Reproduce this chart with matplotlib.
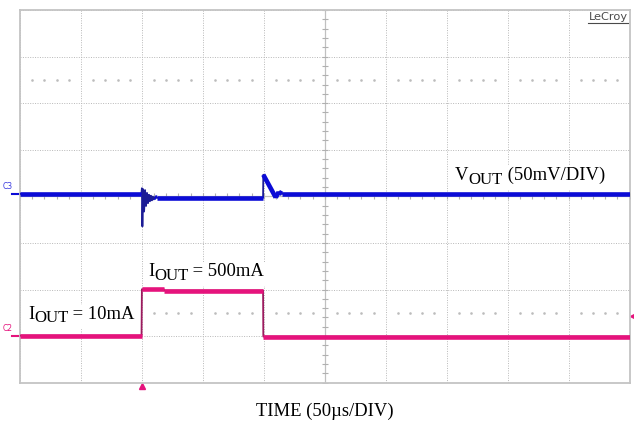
import matplotlib.pyplot as plt
import numpy as np

W, H = 634, 421

# time in microseconds (50us/div, 10 div on screen)
t_vout = [0, 99.6, 100.0, 100.4, 101.0, 101.8, 102.6, 103.4, 104.2, 105.0, 105.8,
          106.6, 107.4, 108.2, 109.0, 109.8, 110.6, 112.0, 199.4, 199.6, 209.8, 212.3, 215.0, 500]
# VOUT deviation in mV (50mV/div)
vout_mv = [0, 0, 6, -35, 5, -19, 4, -13, 1, -10, -1,
           -8, -2, -7, -3, -6, -3.5, -4.3, -4.3, 20.5, -4.0, 2.0, 0, 0]

t_iout = [0, 99.7, 100.0, 118.0, 118.3, 199.4, 199.6, 500]
# IOUT in mA (500mA/div)
iout_ma = [10, 10, 508, 508, 494, 494, 0, 0]

vout_offset = 0.054   # div
iout_offset = -3.01   # div
iout_trig_ma = 225
trig_time = 100

blue = '#0b0bd6'
blue_edge = '#1c1c96'
pink = '#e5137c'
pink_edge = '#9c1a5e'
grid_col = '#b8b8b8'

fig = plt.figure(figsize=(W / 100, H / 100), dpi=100)
ax = fig.add_axes([20 / W, 1 - 382.7 / H, 609.5 / W, 372.7 / H])
ax.set_xlim(0, 500)
ax.set_ylim(-4, 4)
ax.set_xticks(np.arange(0, 501, 50))
ax.set_yticks(np.arange(-4, 5, 1))
ax.grid(True, ls=(0, (1, 1.5)), color=grid_col, lw=0.7)
ax.tick_params(length=0, labelbottom=False, labelleft=False)
for sp in ax.spines.values():
    sp.set_color('#c4c4c4')
    sp.set_linewidth(1.3)

# centre cross with minor ticks
ax.axvline(250, color='#c0c0c0', lw=0.9)
ax.axhline(0, color='#c0c0c0', lw=0.9)
minor_y = np.arange(-4, 4.01, 0.2)
minor_x = np.arange(0, 500.1, 10)
ax.plot(np.full(len(minor_y), 250), minor_y, ls='none', marker='_', ms=4, mew=0.8, color='#b0b0b0')
ax.plot(minor_x, np.zeros(len(minor_x)), ls='none', marker='|', ms=5, mew=0.8, color='#b0b0b0')

# dotted rows at +/-2.5 div
dots_x = [x for x in minor_x if x % 50 != 0]
for row in (2.5, -2.5):
    ax.plot(dots_x, [row] * len(dots_x), ls='none', marker='s', ms=0.8, color='#bcbcbc')


def draw_trace(t, y, color, edge_color):
    t = np.asarray(t, dtype=float)
    y = np.asarray(y, dtype=float)
    ax.plot(t, y, color=edge_color, lw=1.3, zorder=3)
    slope = np.abs(np.diff(y)) / np.maximum(np.diff(t), 1e-9)
    for i in np.where(slope < 0.05)[0]:
        ax.plot(t[i:i + 2], y[i:i + 2], color=color, lw=3.3,
                solid_capstyle='butt', zorder=4)


vout_div = vout_offset + np.array(vout_mv) / 50.0
iout_div = iout_offset + np.array(iout_ma) / 500.0
draw_trace(t_vout, vout_div, blue, blue_edge)
draw_trace(t_iout, iout_div, pink, pink_edge)

# channel markers
ax.plot([-6.5, 0], [vout_offset, vout_offset], color=blue, lw=1.5, clip_on=False)
ax.text(-10.5, vout_offset + 0.06, 'C3', color='#3a3ae0', fontsize=5.5, ha='center',
        va='bottom', family='DejaVu Sans')
c2_lvl = iout_offset + 10 / 500.0
ax.plot([-6.5, 0], [c2_lvl, c2_lvl], color=pink, lw=1.5, clip_on=False)
ax.text(-10.5, c2_lvl + 0.06, 'C2', color=pink, fontsize=5.5, ha='center',
        va='bottom', family='DejaVu Sans')
ax.plot(trig_time, -4.08, marker='^', ms=4.5, color=pink, clip_on=False)
ax.plot(503, iout_offset + iout_trig_ma / 500.0, marker='<', ms=4.5, color=pink, clip_on=False)

# LeCroy logo
fig.text(627.5 / W, 1 - 20.5 / H, 'LeCroy', ha='right', va='baseline', fontsize=8.2,
         color='#4a4a4a', family='DejaVu Sans')
fig.add_artist(plt.Line2D([588 / W, 627.5 / W], [1 - 22.5 / H] * 2, color='#4a4a4a', lw=0.8))

renderer = fig.canvas.get_renderer()


def sub_label(x_px, base_px, pieces, size=13.4):
    x = x_px
    boxes = []
    for s, sub in pieces:
        fs = size * 0.9 if sub else size
        dy = 3.5 if sub else 0
        t = fig.text(x / W, 1 - (base_px + dy) / H, s, fontsize=fs, va='baseline',
                     ha='left', family='Liberation Serif', zorder=5)
        bb = t.get_window_extent(renderer)
        boxes.append(bb)
        x += bb.width
    x0 = min(b.x0 for b in boxes) - 3
    x1 = max(b.x1 for b in boxes) + 3
    y0 = min(b.y0 for b in boxes) - 1
    y1 = max(b.y1 for b in boxes) + 1
    fig.patches.append(plt.Rectangle((x0 / W, y0 / H), (x1 - x0) / W, (y1 - y0) / H,
                                     transform=fig.transFigure, color='white', zorder=4.5))


sub_label(455, 180, [('V', False), ('OUT', True), (' (50mV/DIV)', False)])
sub_label(148, 276.5, [('I', False), ('OUT', True), (' = 500mA', False)])
sub_label(28, 319, [('I', False), ('OUT', True), (' = 10mA', False)])

fig.text(325 / W, 1 - 415.5 / H, 'TIME (50\u00b5s/DIV)', ha='center', va='baseline',
         fontsize=13.4, family='Liberation Serif')

fig.savefig('out.png', dpi=100)
